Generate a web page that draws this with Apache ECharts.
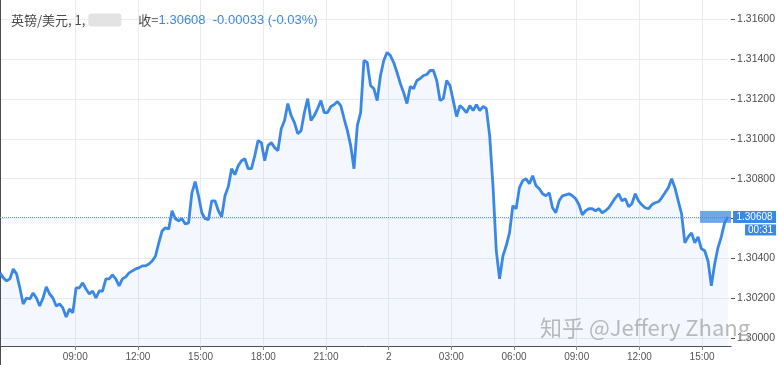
<!DOCTYPE html>
<html><head><meta charset="utf-8">
<script src="https://cdn.jsdelivr.net/npm/echarts@6/dist/echarts.min.js"></script>
<style>html,body{margin:0;padding:0;background:#fff}#c{width:778px;height:365px}</style>
</head><body><div id="c"></div>
<script>
// ---- data ----
const symbolName = '英镑/美元, 1, ';
const closeLabel = '收=';
const lastPrice = 1.30608;
const change = -0.00033;
const changePct = '-0.03%';
const countdown = '00:31';
const startHour = 5.4;          // 05:24 day 1 (hours since day-1 midnight)
const stepMinutes = 9.5;        // sampling step of the values below
const endHour = 40.385;         // right edge of the plot (16:23 day 2)
const xTickHours = [9, 12, 15, 18, 21, 24, 27, 30, 33, 36, 39];
const yTicks = [1.300, 1.302, 1.304, 1.306, 1.308, 1.310, 1.312, 1.314, 1.316];
const prices = [
1.30327,1.30302,1.30287,1.30297,1.30347,1.30322,1.30252,1.30171,1.30201,1.30196,
1.30226,1.30201,1.30161,1.30201,1.30257,1.30221,1.30201,1.30161,1.30171,1.30151,
1.30106,1.30146,1.30126,1.30252,1.30252,1.30277,1.30246,1.30221,1.30236,1.30201,
1.30236,1.30236,1.30297,1.30297,1.30317,1.30297,1.30262,1.30297,1.30307,
1.30327,1.30337,1.30347,1.30352,1.30362,1.30362,1.30372,1.30387,1.30412,1.30478,1.30538,1.30553,1.30548,
1.30639,1.30599,1.30589,1.30599,1.30573,1.30578,1.30729,1.30785,1.30714,1.30629,
1.30599,1.30594,1.30689,1.30689,1.30639,1.30609,1.30714,1.30760,1.30850,1.30820,
1.30865,1.30890,1.30900,1.30850,1.30850,1.30915,
1.30991,1.30981,1.30890,1.30966,1.30981,1.30956,1.30941,1.31051,1.31092,1.31177,
1.31117,1.31081,1.31026,1.31041,1.31132,1.31202,1.31092,1.31117,1.31152,1.31192,
1.31132,1.31132,1.31162,1.31172,1.31187,1.31167,1.31102,1.31041,1.30966,1.30850,
1.31066,1.31132,1.31393,1.31383,1.31268,1.31252,1.31192,1.31318,1.31393,
1.31434,1.31418,1.31383,1.31333,1.31278,1.31232,1.31177,1.31263,1.31252,1.31293,
1.31303,1.31318,1.31323,1.31343,1.31343,1.31293,1.31192,1.31202,1.31293,1.31268,
1.31192,1.31112,1.31167,1.31152,1.31132,1.31167,1.31142,1.31172,1.31142,1.31162,
1.31152,1.31016,1.30765,1.30438,1.30297,1.30412,1.30463,1.30528,1.30664,
1.30649,1.30755,1.30790,1.30800,1.30775,1.30815,1.30765,1.30749,1.30724,1.30714,
1.30729,1.30654,1.30629,1.30689,1.30714,1.30719,1.30724,1.30714,1.30699,1.30669,
1.30619,1.30639,1.30649,1.30649,1.30639,1.30649,1.30629,1.30639,1.30654,1.30679,
1.30704,1.30724,1.30689,1.30699,1.30659,1.30674,1.30724,1.30689,1.30669,
1.30654,1.30649,1.30669,1.30679,1.30684,1.30704,1.30729,1.30755,1.30800,1.30755,
1.30689,1.30624,1.30478,1.30508,1.30528,1.30478,1.30508,1.30448,1.30438,1.30387,
1.30262,1.30372,1.30453,1.30508,1.30578,1.30608
];
// ---- build ----
const seriesData = prices.map((p, i) => [startHour + i * stepMinutes / 60, p]);
const yMin = 1.2996, yMax = 1.31697;
const gridLine = '#e8ecf1';
const axisColor = '#4d4d4d';
const tagBlue = '#3a87e6';
const pad = n => (n < 10 ? '0' : '') + n;
const font = '"Liberation Sans", Arial, sans-serif';
const chart = echarts.init(document.getElementById('c'), null, {renderer: 'canvas'});
chart.setOption({
  animation: false,
  backgroundColor: '#ffffff',
  title: {
    left: 6, top: 6,
    text: '{a|' + symbolName + '}{g|}{s|}{a|' + closeLabel + '}{b|' + lastPrice.toFixed(5) + '  ' + change.toFixed(5) + ' (' + changePct + ')}',
    textStyle: {
      fontWeight: 'normal',
      rich: {
        a: {fontSize: 13, fontWeight: 'normal', color: '#4a4a4a', fontFamily: '"Noto Sans CJK SC", ' + font},
        g: {width: 33, height: 13, backgroundColor: '#e3e3e3', borderRadius: 3},
        s: {width: 17},
        b: {fontSize: 13, fontWeight: 'normal', color: '#3b88e2', fontFamily: font}
      }
    }
  },
  grid: [
    {left: 0, right: 44, top: 0, bottom: 19},
    {left: 0, right: 44, top: 0, bottom: 0}
  ],
  xAxis: [
    {gridIndex: 0, type: 'value', min: startHour, max: endHour,
      axisLine: {show: true, onZero: false, lineStyle: {color: axisColor, width: 1}},
      axisTick: {show: true, length: 4, customValues: xTickHours, lineStyle: {color: '#8a8a8a'}},
      splitLine: {show: true, lineStyle: {color: gridLine, width: 1}},
      axisLabel: {
        customValues: xTickHours,
        margin: 6, fontSize: 10, color: '#555', fontFamily: font,
        formatter: v => (v === 24 ? '2' : pad(v % 24) + ':00')
      }
    },
    {gridIndex: 1, type: 'value', min: 0, max: 1, show: false}
  ],
  yAxis: [
    {gridIndex: 0, type: 'value', position: 'right', min: yMin, max: yMax,
      axisLine: {show: false},
      axisTick: {show: true, length: 4, customValues: yTicks, lineStyle: {color: axisColor}},
      splitLine: {show: true, lineStyle: {color: gridLine, width: 1}},
      axisLabel: {
        customValues: yTicks,
        margin: 6, fontSize: 10.5, color: axisColor, fontFamily: font,
        formatter: v => v.toFixed(5)
      }
    },
    {gridIndex: 1, type: 'value', position: 'right', min: 0, max: 1,
      axisLine: {show: true, lineStyle: {color: axisColor, width: 1}},
      axisTick: {show: false}, axisLabel: {show: false}, splitLine: {show: false}
    }
  ],
  series: [{
    type: 'line', xAxisIndex: 0, yAxisIndex: 0,
    data: seriesData, showSymbol: false, symbol: 'none',
    lineStyle: {color: tagBlue, width: 2.8},
    areaStyle: {color: 'rgba(33,120,230,0.07)', origin: 'start'},
    markLine: {
      silent: true, symbol: 'none',
      lineStyle: {color: '#5a96e0', type: 'dotted', width: 1},
      label: {show: false},
      data: [[{coord: [startHour, lastPrice]}, {coord: [endHour, lastPrice]}]]
    },
    markPoint: {
      silent: true,
      data: [
        {coord: [endHour, lastPrice], symbol: 'rect', symbolSize: [31, 12], symbolOffset: [-15.5, 0],
          itemStyle: {color: 'rgba(58,135,230,0.72)'}, label: {show: false}},
        {coord: [endHour, lastPrice], symbol: 'rect', symbolSize: [43, 12], symbolOffset: [23.5, 0],
          itemStyle: {color: tagBlue},
          label: {show: true, position: 'inside', formatter: lastPrice.toFixed(5), color: '#fff', fontSize: 10, fontFamily: font}},
        {coord: [endHour, lastPrice], symbol: 'rect', symbolSize: [31, 11], symbolOffset: [29.5, 13],
          itemStyle: {color: tagBlue},
          label: {show: true, position: 'inside', formatter: countdown, color: '#fff', fontSize: 10, fontFamily: font}}
      ]
    }
  }],
  graphic: [{
    type: 'text', left: 540, top: 317, z: 100, silent: true,
    style: {text: '知乎 @Jeffery Zhang', font: '22px "Noto Sans CJK SC", sans-serif', fill: 'rgba(160,160,160,0.72)'}
  }]
});
</script></body></html>
